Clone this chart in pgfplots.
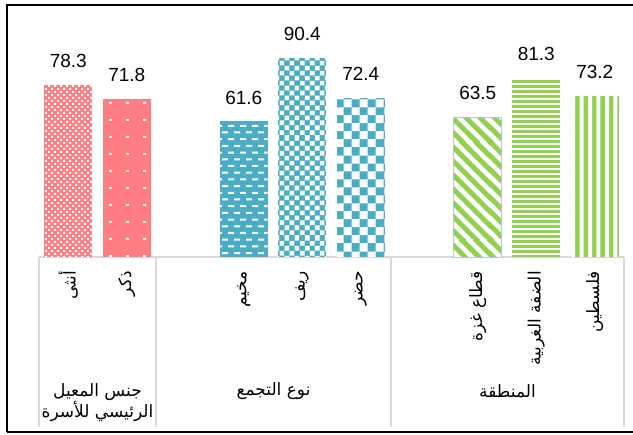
\documentclass[border=0pt]{standalone}
\usepackage{fontspec}
\setmainfont{Liberation Sans}
\newfontfamily\arabicfont[Script=Arabic]{DejaVu Sans}
\usepackage{pgfplots}
\pgfplotsset{compat=1.18}
\usetikzlibrary{patterns}
\TeXXeTstate=1
\definecolor{pinkc}{HTML}{FF7C80}
\definecolor{tealc}{HTML}{4BACC6}
\definecolor{greenc}{HTML}{92D050}
\definecolor{gridc}{HTML}{D9D9D9}
\definecolor{edgec}{HTML}{B4C7E7}

% small checker, tile 96pt
\pgfdeclarepatternformonly{smallcheck}{\pgfpointorigin}{\pgfqpoint{96pt}{96pt}}{\pgfqpoint{96pt}{96pt}}{%
  \foreach \i in {0,...,15}{\foreach \j in {0,...,15}{%
    \pgfpathrectangle{\pgfpoint{6*\i pt}{6*\j pt}}{\pgfqpoint{2.2pt}{2.2pt}}%
    \pgfpathrectangle{\pgfpoint{6*\i pt+3pt}{6*\j pt+3pt}}{\pgfqpoint{2.2pt}{2.2pt}}}}%
  \pgfusepath{fill}}
% sparse dots, tile 102pt
\pgfdeclarepatternformonly{sparsedots}{\pgfpointorigin}{\pgfqpoint{102pt}{102pt}}{\pgfqpoint{102pt}{102pt}}{%
  \foreach \i in {0,...,5}{\foreach \j in {0,...,5}{%
    \pgfpathrectangle{\pgfpoint{17*\i pt+7pt}{17*\j pt+8pt}}{\pgfqpoint{3pt}{2pt}}}}%
  \pgfusepath{fill}}
% dashed horizontal, tile 96 x 107.2
\pgfdeclarepatternformonly{dashhoriz}{\pgfpointorigin}{\pgfqpoint{96pt}{107.2pt}}{\pgfqpoint{96pt}{107.2pt}}{%
  \foreach \i in {0,...,7}{\foreach \j in {0,...,7}{%
    \pgfpathrectangle{\pgfpoint{12*\i pt}{13.4*\j pt}}{\pgfqpoint{6pt}{2pt}}%
    \pgfpathrectangle{\pgfpoint{12*\i pt+6pt}{13.4*\j pt+6.7pt}}{\pgfqpoint{6pt}{2pt}}}}%
  \pgfusepath{fill}}
% medium checker (5pt), tile 100pt
\pgfdeclarepatternformonly{medcheck}{\pgfpointorigin}{\pgfqpoint{100pt}{100pt}}{\pgfqpoint{100pt}{100pt}}{%
  \foreach \i in {0,...,9}{\foreach \j in {0,...,9}{%
    \pgfpathrectangle{\pgfpoint{10*\i pt}{10*\j pt}}{\pgfqpoint{4.6pt}{4.6pt}}%
    \pgfpathrectangle{\pgfpoint{10*\i pt+5pt}{10*\j pt+5pt}}{\pgfqpoint{4.6pt}{4.6pt}}}}%
  \pgfusepath{fill}}
% large checker (8pt), tile 96pt
\pgfdeclarepatternformonly{bigcheck}{\pgfpointorigin}{\pgfqpoint{96pt}{96pt}}{\pgfqpoint{96pt}{96pt}}{%
  \foreach \i in {0,...,5}{\foreach \j in {0,...,5}{%
    \pgfpathrectangle{\pgfpoint{16*\i pt}{16*\j pt}}{\pgfqpoint{8pt}{8pt}}%
    \pgfpathrectangle{\pgfpoint{16*\i pt+8pt}{16*\j pt+8pt}}{\pgfqpoint{8pt}{8pt}}}}%
  \pgfusepath{fill}}
% wide downward diagonal, tile 98pt
\pgfdeclarepatternformonly{widediag}{\pgfpointorigin}{\pgfqpoint{98pt}{98pt}}{\pgfqpoint{98pt}{98pt}}{%
  \pgfsetlinewidth{5pt}%
  \foreach \k in {0,...,14}{%
    \pgfpathmoveto{\pgfpoint{-6pt}{14*\k pt+6pt}}\pgfpathlineto{\pgfpoint{14*\k pt+6pt}{-6pt}}}%
  \pgfusepath{stroke}}
% narrow horizontal (white lines), tile 100 x 100
\pgfdeclarepatternformonly{narrowhoriz}{\pgfpointorigin}{\pgfqpoint{100pt}{100pt}}{\pgfqpoint{100pt}{100pt}}{%
  \foreach \j in {0,...,19}{%
    \pgfpathrectangle{\pgfpoint{0pt}{5*\j pt}}{\pgfqpoint{100pt}{1.8pt}}}%
  \pgfusepath{fill}}
% vertical (white lines), tile 100.8 x 100
\pgfdeclarepatternformonly{vertstripe}{\pgfpointorigin}{\pgfqpoint{100.8pt}{100pt}}{\pgfqpoint{100.8pt}{100pt}}{%
  \foreach \i in {0,...,11}{%
    \pgfpathrectangle{\pgfpoint{8.4*\i pt}{0pt}}{\pgfqpoint{4pt}{100pt}}}%
  \pgfusepath{fill}}

\begin{document}
\begin{tikzpicture}[x=1pt,y=1pt]
\useasboundingbox (0,0) rectangle (633,435);
\begin{axis}[
  at={(39pt,178pt)}, anchor=south west,
  scale only axis, width=585pt, height=220pt,
  xmin=-0.5, xmax=9.5, ymin=0, ymax=100,
  axis x line*=bottom, axis y line=none,
  axis line style={draw=gridc, line width=1.3pt},
  ybar, bar width=48pt, bar shift=0pt,
  clip=false,
  xtick={0,1,3,4,5,7,8,9},
  xticklabels={{\arabicfont\beginR أنثى\endR},{\arabicfont\beginR ذكر\endR},{\arabicfont\beginR مخيم\endR},{\arabicfont\beginR ريف\endR},{\arabicfont\beginR حضر\endR},{\arabicfont\beginR قطاع غزة\endR},{\arabicfont\beginR الضفة الغربية\endR},{\arabicfont\beginR فلسطين\endR}},
  xticklabel style={rotate=90, anchor=east, inner sep=0pt, font=\fontsize{17}{19}\selectfont},
  xticklabel shift=14pt,
  major tick length=0pt,
  nodes near coords,
  point meta=explicit symbolic,
  every node near coord/.append style={font=\fontsize{19}{22}\selectfont, inner sep=0pt, yshift=17pt, text=black},
]
\addplot[bar shift=0pt, draw=none, fill=pinkc, postaction={pattern=smallcheck, pattern color=white}] coordinates {(0,78.3) [78.3]};
\addplot[bar shift=0pt, draw=none, fill=pinkc, postaction={pattern=sparsedots, pattern color=white}] coordinates {(1,71.8) [71.8]};
\addplot[bar shift=0pt, draw=none, fill=tealc, postaction={pattern=dashhoriz, pattern color=white}] coordinates {(3,61.6) [61.6]};
\addplot[bar shift=0pt, draw=none, fill=tealc, postaction={pattern=medcheck, pattern color=white}] coordinates {(4,90.4) [90.4]};
\addplot[bar shift=0pt, draw=none, fill=tealc, postaction={pattern=bigcheck, pattern color=white}] coordinates {(5,72.4) [72.4]};
\addplot[bar shift=0pt, draw=edgec, line width=0.6pt, fill=white, postaction={pattern=widediag, pattern color=greenc}] coordinates {(7,63.5) [63.5]};
\addplot[bar shift=0pt, draw=none, fill=greenc, postaction={pattern=narrowhoriz, pattern color=white}] coordinates {(8,81.3) [81.3]};
\addplot[bar shift=0pt, draw=none, fill=greenc, postaction={pattern=vertstripe, pattern color=white}] coordinates {(9,73.2) [73.2]};
\end{axis}
% group separators
\foreach \xx in {39,156,391,624} {\draw[gridc, line width=1.3pt] (\xx,178) -- (\xx,8);}
% group labels
\node[align=center, font=\fontsize{17}{21}\selectfont] at (97.5,32) {{\arabicfont\beginR جنس المعيل\endR}\\{\arabicfont\beginR الرئيسي للأسرة\endR}};
\node[font=\fontsize{17}{21}\selectfont] at (273.5,44) {\arabicfont\beginR نوع التجمع\endR};
\node[font=\fontsize{17}{21}\selectfont] at (507.5,44) {\arabicfont\beginR المنطقة\endR};
% outer frame
\draw[line width=2pt] (6.5,3) -- (6.5,430) -- (640,430);
\draw[line width=2.5pt] (6.5,3) -- (640,3);
\end{tikzpicture}
\end{document}
